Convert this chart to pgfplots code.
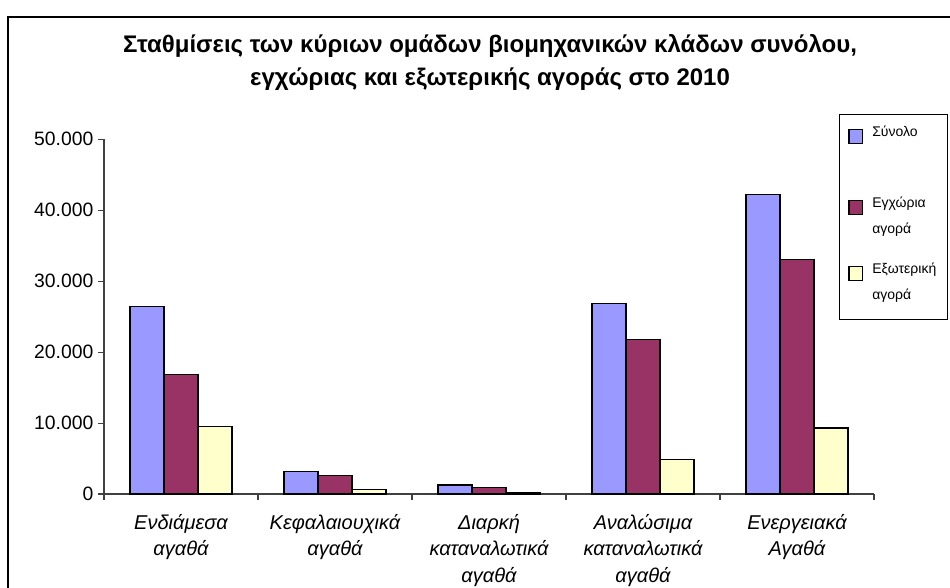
\documentclass[border=0pt]{standalone}
\usepackage{fontspec}
\setmainfont{Liberation Sans}
\usepackage{pgfplots}
\pgfplotsset{compat=1.18}
\definecolor{cblue}{HTML}{9999FF}
\definecolor{cred}{HTML}{993366}
\definecolor{cyel}{HTML}{FFFFCC}
\begin{document}
\begin{tikzpicture}
\useasboundingbox (0,0) rectangle (712.5pt,440.25pt);
\draw[line width=1.1pt] (6pt,-2pt)--(6pt,427.5pt)--(714pt,427.5pt);
\node[anchor=base, font=\bfseries\fontsize{18}{21}\selectfont] at (367.5pt,400.5pt) {Σταθμίσεις των κύριων ομάδων βιομηχανικών κλάδων συνόλου,};
\node[anchor=base, font=\bfseries\fontsize{18}{21}\selectfont] at (367.5pt,376.5pt) {εγχώριας και εξωτερικής αγοράς στο 2010};
\begin{axis}[
  at={(78pt,69.75pt)}, anchor=south west,
  scale only axis, width=577.5pt, height=266pt,
  xmin=-0.5, xmax=4.5, ymin=0, ymax=50000,
  axis lines*=left,
  axis line style={line width=0.8pt, black!75},
  ybar=0pt, bar width=25.5pt,
  xtick={-0.5,0.5,1.5,2.5,3.5,4.5}, xticklabels={},
  extra x ticks={0,1,2,3,4},
  extra x tick labels={{Ενδιάμεσα\\αγαθά},{Κεφαλαιουχικά\\αγαθά},{Διαρκή\\καταναλωτικά\\αγαθά},{Αναλώσιμα\\καταναλωτικά\\αγαθά},{Ενεργειακά\\Αγαθά}},
  extra x tick style={tick style={draw=none}, xticklabel style={font=\itshape\fontsize{15}{20}\selectfont, align=center, anchor=north, yshift=-7pt}},
  ytick={0,10000,20000,30000,40000,50000},
  tick align=outside, major tick length=4.5pt,
  tick style={black!75, line width=0.8pt},
  scaled y ticks=false,
  yticklabel style={font=\fontsize{14.5}{17}\selectfont, /pgf/number format/.cd, fixed, 1000 sep={.}, assume math mode=true},
  legend style={at={(0.9545,1.0713)}, anchor=north west, draw=black, line width=0.75pt,
    inner xsep=6.75pt, inner ysep=9.5pt, row sep=10pt, column sep=7pt,
    cells={anchor=base west},
    nodes={inner sep=0pt, font=\fontsize{10.5}{19.5}\selectfont, text height=7pt}},
]
\addplot[fill=cblue, draw=black, line width=0.9pt,
  legend image code/.code={\draw[fill=cblue,draw=black,line width=0.9pt] (0pt,-5pt) rectangle (10pt,5pt);}]
  coordinates {(0,26400) (1,3200) (2,1270) (3,26900) (4,42200)};
\addlegendentry[text depth=36.25pt]{\parbox[t]{49.5pt}{\raggedright Σύνολο}}
\addplot[fill=cred, draw=black, line width=0.9pt,
  legend image code/.code={\draw[fill=cred,draw=black,line width=0.9pt] (0pt,-5pt) rectangle (10pt,5pt);}]
  coordinates {(0,16900) (1,2600) (2,900) (3,21800) (4,33100)};
\addlegendentry[text depth=32.5pt]{\parbox[t]{49.5pt}{\raggedright Εγχώρια\\αγορά}}
\addplot[fill=cyel, draw=black, line width=0.9pt,
  legend image code/.code={\draw[fill=cyel,draw=black,line width=0.9pt] (0pt,-5pt) rectangle (10pt,5pt);}]
  coordinates {(0,9500) (1,660) (2,250) (3,4900) (4,9300)};
\addlegendentry[text depth=25pt]{\parbox[t]{49.5pt}{\raggedright Εξωτερική\\αγορά}}
\end{axis}
\end{tikzpicture}
\end{document}
